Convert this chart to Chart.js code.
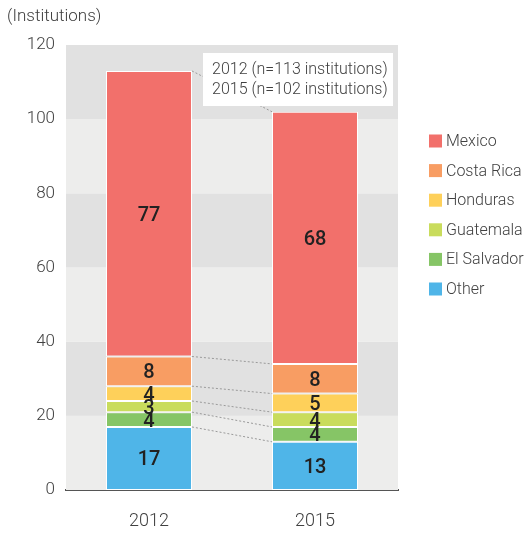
<!DOCTYPE html>
<html>
<head>
<meta charset="utf-8">
<script src="https://cdn.jsdelivr.net/npm/chart.js@4"></script>
<style>
  html, body { margin: 0; padding: 0; background: #fff; }
  #wrap { width: 530px; height: 533px; position: relative; }
</style>
</head>
<body>
<div id="wrap"><canvas id="chart"></canvas></div>
<script>
// --- data ---
const years = ['2012', '2015'];
const countries = ['Other', 'El Salvador', 'Guatemala', 'Honduras', 'Costa Rica', 'Mexico'];
const other = [17, 13];
const elSalvador = [4, 4];
const guatemala = [3, 4];
const honduras = [4, 5];
const costaRica = [8, 8];
const mexico = [77, 68];
const totals = [113, 102];
const yTicks = [0, 20, 40, 60, 80, 100, 120];
const unitLabel = '(Institutions)';

const colors = ['#4fb5e8', '#86c566', '#c9dc5c', '#fed05a', '#f89d63', '#f2706b'];
const series = [other, elSalvador, guatemala, honduras, costaRica, mexico];
const FONT = 'Roboto, "Liberation Sans", sans-serif';
const TEXT = '#404040';

// alternating grey bands behind the plot
const bands = {
    id: 'bands',
    beforeDatasetsDraw: (chart) => {
        const { ctx, chartArea: a, scales: { y } } = chart;
        ctx.save();
        for (let i = 0; i < yTicks.length - 1; i++) {
            const top = y.getPixelForValue(yTicks[i + 1]);
            const bottom = y.getPixelForValue(yTicks[i]);
            ctx.fillStyle = i % 2 === 0 ? '#ededec' : '#e1e1e1';
            ctx.fillRect(a.left, top, a.right - a.left, bottom - top);
        }
        ctx.restore();
    }
};

// dotted connectors, value labels, annotation box and legend
const extras = {
    id: 'extras',
    afterDatasetsDraw: (chart) => {
        const { ctx, chartArea: a } = chart;
        ctx.save();

        // connectors between the two bars at each segment top
        ctx.strokeStyle = '#9a9a9a';
        ctx.lineWidth = 1;
        ctx.setLineDash([2, 2]);
        chart.data.datasets.forEach((ds, i) => {
            const meta = chart.getDatasetMeta(i);
            const b0 = meta.data[0], b1 = meta.data[1];
            ctx.beginPath();
            ctx.moveTo(b0.x + b0.width / 2, b0.y);
            ctx.lineTo(b1.x - b1.width / 2, b1.y);
            ctx.stroke();
        });
        ctx.setLineDash([]);

        // value labels
        ctx.fillStyle = '#222';
        ctx.font = '500 20px ' + FONT;
        ctx.textAlign = 'center';
        ctx.textBaseline = 'middle';
        chart.data.datasets.forEach((ds, i) => {
            chart.getDatasetMeta(i).data.forEach((bar, j) => {
                const p = bar.getCenterPoint();
                ctx.fillText(String(ds.data[j]), p.x, p.y + 2);
            });
        });

        // annotation box
        const bx = a.left + 137, by = a.top + 8;
        ctx.fillStyle = '#fff';
        ctx.fillRect(bx, by, 190, 53);
        ctx.fillStyle = TEXT;
        ctx.font = '300 16px ' + FONT;
        ctx.textAlign = 'left';
        years.forEach((yr, i) => {
            ctx.fillText(`${yr} (n=${totals[i]} institutions)`, bx + 9, by + 17 + i * 20);
        });

        // legend (top item = last dataset)
        const lx = 429;
        let ly = 141;
        ctx.font = '300 16px ' + FONT;
        for (let i = chart.data.datasets.length - 1; i >= 0; i--) {
            const ds = chart.data.datasets[i];
            ctx.fillStyle = ds.backgroundColor;
            ctx.fillRect(lx, ly - 6.5, 13, 13);
            ctx.fillStyle = TEXT;
            ctx.fillText(ds.label, lx + 17, ly + 1);
            ly += 29.6;
        }

        // unit label
        ctx.font = '300 17px ' + FONT;
        ctx.fillText(unitLabel, 7, 17);
        ctx.restore();
    }
};

new Chart(document.getElementById('chart'), {
    type: 'bar',
    data: {
        labels: years,
        datasets: countries.map((name, i) => ({
            label: name,
            data: series[i],
            backgroundColor: colors[i],
            borderColor: '#ffffff',
            borderWidth: 1,
            borderSkipped: false,
            categoryPercentage: 1,
            barPercentage: 0.518
        }))
    },
    options: {
        responsive: true,
        maintainAspectRatio: false,
        animation: false,
        layout: { padding: { top: 45, right: 132, left: 7, bottom: 0 } },
        plugins: {
            legend: { display: false },
            tooltip: { enabled: false }
        },
        scales: {
            x: {
                stacked: true,
                grid: { display: false, drawTicks: false },
                border: { color: '#555', width: 2 },
                ticks: { color: TEXT, font: { family: FONT, size: 18, weight: 300 }, padding: 21 },
                afterFit: (s) => { s.height = 43; }
            },
            y: {
                stacked: true,
                min: 0,
                max: 120,
                grid: { display: false, drawTicks: false },
                border: { display: false },
                ticks: { stepSize: 20, color: TEXT, font: { family: FONT, size: 17, weight: 300 }, padding: 11 },
                afterFit: (s) => { s.width = 59; }
            }
        }
    },
    plugins: [bands, extras]
});
</script>
</body>
</html>
